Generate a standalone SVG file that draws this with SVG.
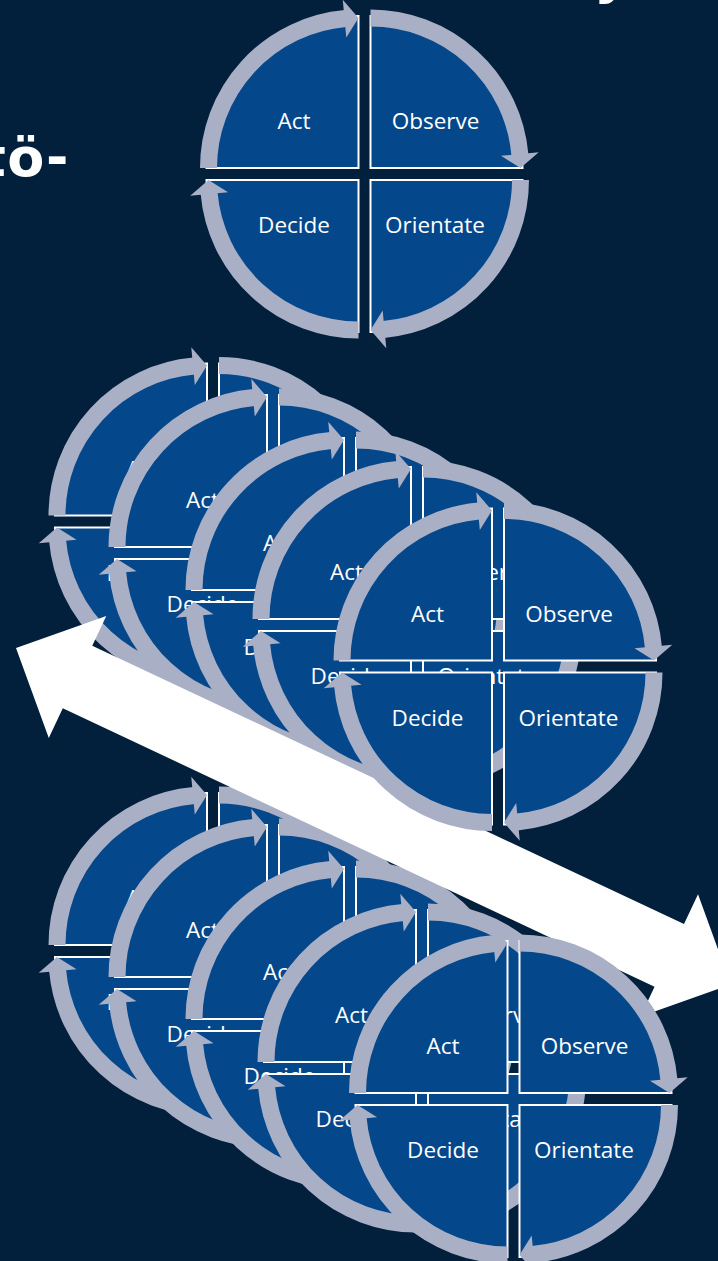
<svg xmlns="http://www.w3.org/2000/svg" xmlns:xlink="http://www.w3.org/1999/xlink" width="718" height="1261" viewBox="0 0 718 1261">
<style>
.qf{fill:#05478b;stroke:#ffffff;stroke-width:2}
.ring{fill:none;stroke:#a9b0c5;stroke-width:17}
.head{fill:#a9b0c5}
.lbl{font-family:"Open Sans","Liberation Sans",sans-serif;font-size:22.5px;fill:#ffffff;text-anchor:middle}
.title{font-family:"DejaVu Sans","Liberation Sans",sans-serif;font-weight:bold;font-size:54px;fill:#ffffff}
.big{fill:#ffffff}
</style>
<defs>
<g id="quad">
<path class="qf" d="M-6 -6 H-158 A152 152 0 0 1 -6 -158 Z"/>
<path class="ring" d="M-156 -6 A150 150 0 0 1 -19.07 -155.43"/>
<polygon class="head" points="-21.75,-174.27 -6,-156 -18.20,-136.43"/>
</g>
<g id="wheel">
<use href="#quad" xlink:href="#quad"/>
<use href="#quad" xlink:href="#quad" transform="rotate(90)"/>
<use href="#quad" xlink:href="#quad" transform="rotate(180)"/>
<use href="#quad" xlink:href="#quad" transform="rotate(270)"/>
</g>
</defs>
<rect x="0" y="0" width="718" height="1261" fill="#021f3c"/>
<text class="title" x="-20" y="176" letter-spacing="1.5">tö-</text>
<text class="title" x="594" y="-7">y</text>

<g id="cycle-top" transform="translate(364.5,174)">
<use href="#wheel" xlink:href="#wheel"/>
<text class="lbl" x="-70.5" y="-45">Act</text><text class="lbl" x="71" y="-45">Observe</text><text class="lbl" x="-70.5" y="59">Decide</text><text class="lbl" x="70.5" y="59">Orientate</text>
</g>

<g id="stack1-cycle1" transform="translate(213,521.5)">
<use href="#wheel" xlink:href="#wheel"/>
<text class="lbl" x="-70.5" y="-45">Act</text><text class="lbl" x="71" y="-45">Observe</text><text class="lbl" x="-70.5" y="59">Decide</text><text class="lbl" x="70.5" y="59">Orientate</text>
</g>
<g id="stack1-cycle2" transform="translate(273,553)">
<use href="#wheel" xlink:href="#wheel"/>
<text class="lbl" x="-70.5" y="-45">Act</text><text class="lbl" x="71" y="-45">Observe</text><text class="lbl" x="-70.5" y="59">Decide</text><text class="lbl" x="70.5" y="59">Orientate</text>
</g>
<g id="stack1-cycle3" transform="translate(350,596)">
<use href="#wheel" xlink:href="#wheel"/>
<text class="lbl" x="-70.5" y="-45">Act</text><text class="lbl" x="71" y="-45">Observe</text><text class="lbl" x="-70.5" y="59">Decide</text><text class="lbl" x="70.5" y="59">Orientate</text>
</g>
<g id="stack1-cycle4" transform="translate(417,625)">
<use href="#wheel" xlink:href="#wheel"/>
<text class="lbl" x="-70.5" y="-45">Act</text><text class="lbl" x="71" y="-45">Observe</text><text class="lbl" x="-70.5" y="59">Decide</text><text class="lbl" x="70.5" y="59">Orientate</text>
</g>

<g id="stack2-cycle1" transform="translate(213,951)">
<use href="#wheel" xlink:href="#wheel"/>
<text class="lbl" x="-70.5" y="-45">Act</text><text class="lbl" x="71" y="-45">Observe</text><text class="lbl" x="-70.5" y="59">Decide</text><text class="lbl" x="70.5" y="59">Orientate</text>
</g>
<g id="stack2-cycle2" transform="translate(273,983)">
<use href="#wheel" xlink:href="#wheel"/>
<text class="lbl" x="-70.5" y="-45">Act</text><text class="lbl" x="71" y="-45">Observe</text><text class="lbl" x="-70.5" y="59">Decide</text><text class="lbl" x="70.5" y="59">Orientate</text>
</g>
<g id="stack2-cycle3" transform="translate(350,1025)">
<use href="#wheel" xlink:href="#wheel"/>
<text class="lbl" x="-70.5" y="-45">Act</text><text class="lbl" x="71" y="-45">Observe</text><text class="lbl" x="-70.5" y="59">Decide</text><text class="lbl" x="70.5" y="59">Orientate</text>
</g>
<g id="stack2-cycle4" transform="translate(422,1068)">
<use href="#wheel" xlink:href="#wheel"/>
<text class="lbl" x="-70.5" y="-45">Act</text><text class="lbl" x="71" y="-45">Observe</text><text class="lbl" x="-70.5" y="59">Decide</text><text class="lbl" x="70.5" y="59">Orientate</text>
</g>

<g id="connectors">
<polygon class="big" transform="translate(16,648) rotate(25.2)" points="0,0 68,-67.5 68,-34.6 722,-34.6 722,-67.5 790,0 722,67.5 722,34.6 68,34.6 68,67.5"/>
</g>

<g id="stack1-cycle5" transform="translate(498,666.5)">
<use href="#wheel" xlink:href="#wheel"/>
<text class="lbl" x="-70.5" y="-45">Act</text><text class="lbl" x="71" y="-45">Observe</text><text class="lbl" x="-70.5" y="59">Decide</text><text class="lbl" x="70.5" y="59">Orientate</text>
</g>
<g id="stack2-cycle5" transform="translate(513.5,1099)">
<use href="#wheel" xlink:href="#wheel"/>
<text class="lbl" x="-70.5" y="-45">Act</text><text class="lbl" x="71" y="-45">Observe</text><text class="lbl" x="-70.5" y="59">Decide</text><text class="lbl" x="70.5" y="59">Orientate</text>
</g>
</svg>
